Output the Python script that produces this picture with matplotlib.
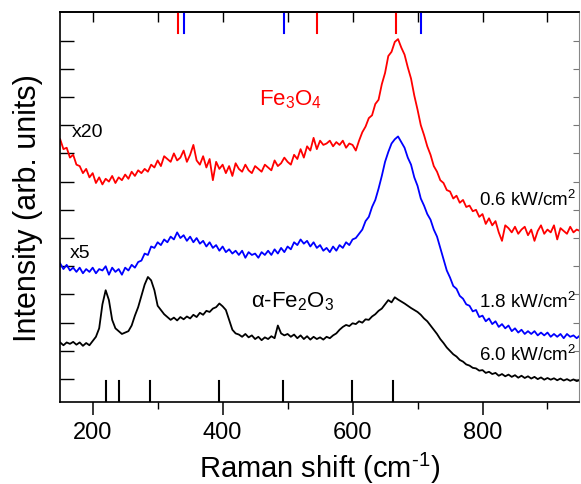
import numpy as np
import matplotlib.pyplot as plt

plt.rcParams['font.family'] = ['Liberation Sans', 'DejaVu Sans']
plt.rcParams['mathtext.fontset'] = 'custom'
plt.rcParams['mathtext.rm'] = 'Liberation Sans'
plt.rcParams['mathtext.it'] = 'Liberation Sans:italic'
plt.rcParams['mathtext.default'] = 'regular'

# Raman shift grid (cm-1), one reading every 5 cm-1
shift = np.arange(150, 951, 5)

# 0.6 kW/cm2 spectrum (x20), offset values
red = [9.50, 9.15, 9.20, 8.85, 8.95, 8.60, 8.55, 8.30, 8.45, 8.15,
       8.30, 7.95, 8.15, 7.90, 8.10, 8.00, 8.20, 7.95, 8.15, 8.05,
       8.25, 8.10, 8.35, 8.20, 8.40, 8.30, 8.45, 8.35, 8.60, 8.50,
       8.75, 8.55, 8.90, 8.80, 8.70, 9.00, 8.75, 8.85, 9.10, 8.70,
       8.95, 9.30, 8.75, 8.60, 8.90, 8.50, 8.80, 8.05, 8.70, 8.45,
       8.60, 8.30, 8.55, 8.20, 8.65, 8.45, 8.35, 8.60, 8.40, 8.30,
       8.55, 8.45, 8.35, 8.60, 8.50, 8.40, 8.75, 8.55, 8.65, 8.85,
       8.70, 8.60, 8.95, 8.80, 9.15, 8.85, 9.25, 9.10, 9.55, 9.15,
       9.45, 9.30, 9.35, 9.45, 9.25, 9.40, 9.30, 9.45, 9.20, 9.35,
       9.30, 9.10, 9.45, 9.75, 9.95, 10.25, 10.35, 10.75, 10.90, 11.45,
       11.85, 12.45, 12.60, 12.95, 13.05, 12.75, 12.50, 12.05, 11.65, 11.05,
       10.55, 10.00, 9.65, 9.25, 8.95, 8.55, 8.35, 8.05, 7.95, 7.70,
       7.65, 7.40, 7.50, 7.25, 7.35, 7.10, 7.15, 6.95, 7.00, 6.75,
       6.85, 6.50, 6.70, 6.45, 6.60, 6.20, 5.90, 6.45, 6.35, 6.20,
       6.40, 6.15, 6.30, 6.40, 6.10, 6.30, 5.90, 6.25, 6.45, 6.15,
       6.30, 6.20, 6.45, 5.95, 6.35, 6.25, 6.15, 6.40, 6.20, 6.30,
       6.25]

# 1.8 kW/cm2 spectrum (x5)
blue = [5.10, 4.90, 5.05, 4.85, 4.95, 4.80, 4.95, 4.75, 4.90, 4.80,
        4.95, 4.75, 4.90, 4.85, 5.00, 4.70, 4.95, 4.80, 4.90, 4.70,
        4.95, 4.85, 5.05, 4.95, 5.15, 5.20, 5.45, 5.40, 5.70, 5.65,
        5.85, 5.75, 5.95, 5.85, 6.05, 5.95, 6.20, 6.00, 6.10, 5.90,
        6.05, 5.85, 6.00, 5.80, 5.90, 5.70, 5.85, 5.65, 5.75, 5.55,
        5.70, 5.50, 5.60, 5.45, 5.55, 5.40, 5.55, 5.30, 5.50, 5.40,
        5.45, 5.30, 5.50, 5.40, 5.55, 5.40, 5.60, 5.45, 5.65, 5.50,
        5.70, 5.60, 5.85, 5.75, 5.95, 5.80, 5.90, 5.70, 5.85, 5.65,
        5.75, 5.55, 5.65, 5.50, 5.70, 5.55, 5.75, 5.65, 5.85, 5.75,
        5.95, 6.00, 6.15, 6.30, 6.60, 6.75, 7.10, 7.35, 7.75, 8.20,
        8.70, 9.05, 9.35, 9.50, 9.60, 9.40, 9.20, 8.85, 8.60, 8.15,
        7.85, 7.40, 7.15, 6.85, 6.65, 6.30, 6.05, 5.65, 5.25, 4.85,
        4.60, 4.30, 4.20, 3.95, 3.85, 3.65, 3.60, 3.40, 3.45, 3.20,
        3.25, 3.05, 3.15, 2.95, 3.05, 2.85, 2.95, 2.80, 2.90, 2.70,
        2.80, 2.65, 2.75, 2.60, 2.70, 2.60, 2.70, 2.55, 2.65, 2.55,
        2.65, 2.50, 2.60, 2.50, 2.60, 2.45, 2.60, 2.50, 2.55, 2.45,
        2.55]

# 6.0 kW/cm2 spectrum
black = [2.30, 2.20, 2.30, 2.25, 2.32, 2.22, 2.30, 2.18, 2.28, 2.20,
         2.35, 2.50, 2.80, 3.65, 4.15, 3.80, 3.10, 2.80, 2.70, 2.60,
         2.65, 2.70, 2.90, 3.25, 3.55, 3.95, 4.35, 4.62, 4.50, 4.15,
         3.60, 3.45, 3.30, 3.20, 3.10, 3.18, 3.08, 3.20, 3.12, 3.22,
         3.15, 3.28, 3.20, 3.35, 3.28, 3.42, 3.38, 3.50, 3.55, 3.68,
         3.58, 3.45, 3.10, 2.75, 2.62, 2.58, 2.50, 2.60, 2.48, 2.55,
         2.42, 2.50, 2.38, 2.48, 2.42, 2.52, 2.45, 2.90, 2.62, 2.55,
         2.60, 2.50, 2.58, 2.45, 2.55, 2.42, 2.52, 2.40, 2.50, 2.42,
         2.48, 2.40, 2.50, 2.45, 2.55, 2.62, 2.75, 2.85, 2.92, 2.88,
         2.98, 2.95, 3.05, 3.00, 3.12, 3.10, 3.22, 3.30, 3.42, 3.50,
         3.65, 3.80, 3.72, 3.90, 3.82, 3.75, 3.68, 3.60, 3.52, 3.45,
         3.38, 3.28, 3.15, 3.05, 2.90, 2.75, 2.60, 2.42, 2.28, 2.12,
         2.00, 1.88, 1.80, 1.68, 1.62, 1.52, 1.48, 1.40, 1.38, 1.30,
         1.32, 1.22, 1.26, 1.18, 1.22, 1.12, 1.18, 1.10, 1.16, 1.08,
         1.14, 1.05, 1.12, 1.04, 1.10, 1.02, 1.08, 1.00, 1.06, 0.98,
         1.04, 0.98, 1.03, 0.96, 1.02, 0.95, 1.00, 0.94, 0.99, 0.93,
         0.97]

# reference band positions (cm-1)
fe3o4_lines = [331, 545, 667]
blue_lines = [341, 495, 706]
hematite_lines = [221, 241, 288, 395, 493, 599, 662]

fig = plt.figure(figsize=(5.81, 4.85), dpi=100)
ax = fig.add_axes([0.1036, 0.1697, 0.8935, 0.8029])

ax.plot(shift, red, color='#ff0000', lw=1.3)
ax.plot(shift, blue, color='#0000ff', lw=1.3)
ax.plot(shift, black, color='black', lw=1.3)

# band markers hanging from the top and standing on the bottom
for x in fe3o4_lines:
    ax.axvline(x, ymin=0.946, ymax=1, color='#ff0000', lw=1.5)
for x in blue_lines:
    ax.axvline(x, ymin=0.946, ymax=1, color='#0000ff', lw=1.5)
for x in hematite_lines:
    ax.axvline(x, ymin=0, ymax=0.054, color='black', lw=1.5)

ax.set_xlim(150, 949)
ax.set_ylim(0.2, 14.0)

ax.set_xticks([200, 400, 600, 800])
ax.set_xticks(np.arange(300, 950, 200), minor=True)
ax.set_yticks(np.arange(1, 14))
ax.set_yticklabels([])
ax.tick_params(axis='x', which='major', direction='out', length=9, width=1.1,
               labelsize=17, pad=5)
ax.tick_params(axis='x', which='minor', direction='out', length=5, width=1.0)
ax.tick_params(axis='y', direction='in', length=10, width=1.0)

top = ax.secondary_xaxis('top')
top.set_xticks(np.arange(200, 950, 100))
top.set_xticklabels([])
top.tick_params(direction='in', length=7, width=1.0)
top.spines['top'].set_linewidth(1.2)

right = ax.secondary_yaxis('right')
right.set_yticks(np.arange(1, 14))
right.set_yticklabels([])
right.tick_params(direction='in', length=4, width=0.8, color='#777777')
right.spines['right'].set_color('#888888')
right.spines['right'].set_linewidth(0.8)
ax.spines['right'].set_visible(False)

for side in ['left', 'bottom', 'top']:
    ax.spines[side].set_linewidth(1.2)

ax.set_xlabel('Raman shift (cm$^{\u20101}$)', fontsize=21, labelpad=5)
ax.set_ylabel('Intensity (arb. units)', fontsize=22, labelpad=9)

ax.text(168, 9.76, 'x20', fontsize=14, va='center')
ax.text(165, 5.47, 'x5', fontsize=14, va='center')
ax.text(456, 10.94, 'Fe$_3$O$_4$', fontsize=16, color='#ff0000', va='center')
ax.text(443, 3.77, '\u03b1-Fe$_2$O$_3$', fontsize=16, va='center')
ax.text(945, 7.39, '0.6 kW/cm$^2$', fontsize=13.5, ha='right', va='center')
ax.text(945, 3.77, '1.8 kW/cm$^2$', fontsize=13.5, ha='right', va='center')
ax.text(945, 1.89, '6.0 kW/cm$^2$', fontsize=13.5, ha='right', va='center')

fig.savefig('out.png', dpi=100)
